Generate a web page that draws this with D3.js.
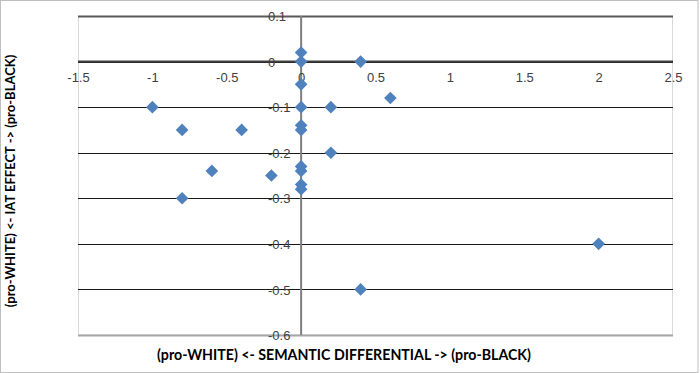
<!DOCTYPE html>
<meta charset="utf-8">
<style>
    body { margin: 0; background: #fff; }
    svg { font-family: Lato, "Open Sans", sans-serif; }
    .tick text { fill: #404040; font-size: 13px; }
    .title { font-weight: bold; fill: #000; }
</style>
<body>
<script src="https://cdn.jsdelivr.net/npm/d3@7"></script>
<script>
    // semantic differential (x) vs IAT effect (y)
    const semantic = [0, 0, 0.4, 0, -1, 0, 0.2, 0.6, -0.8, -0.4, 0, 0, 0.2, -0.6, -0.2, 0, 0, 0, 0, -0.8, 2, 0.4];
    const iat      = [0.02, 0, 0, -0.05, -0.1, -0.1, -0.1, -0.08, -0.15, -0.15, -0.14, -0.15, -0.2, -0.24, -0.25, -0.23, -0.24, -0.27, -0.28, -0.3, -0.4, -0.5];
    const xTicks = [-1.5, -1, -0.5, 0, 0.5, 1, 1.5, 2, 2.5];
    const yTicks = [0.1, 0, -0.1, -0.2, -0.3, -0.4, -0.5, -0.6];

    const W = 700, H = 373;
    const plot = {left: 78, right: 673, top: 16, bottom: 335};

    const svg = d3.select('body').append('svg')
        .attr('width', W)
        .attr('height', H);

    // outer chart border
    svg.append('rect')
        .attr('x', 0.5).attr('y', 0.5)
        .attr('width', 697.5).attr('height', 372)
        .style('fill', 'none')
        .style('stroke', '#bfbfbf');

    const x = d3.scaleLinear().domain([-1.5, 2.5]).range([plot.left, plot.right]);
    const y = d3.scaleLinear().domain([-0.6, 0.1]).range([plot.bottom, plot.top]);

    // excel style labels: plain hyphen minus
    const fmt = d => String(d);

    // plot area border (left / right / bottom)
    svg.append('path')
        .attr('d', `M${plot.left + 0.5},${plot.top}V${plot.bottom}H${plot.right - 0.5}V${plot.top}`)
        .style('fill', 'none')
        .style('stroke', '#d9d9d9');

    // horizontal gridlines
    svg.append('g')
        .selectAll('line')
        .data(yTicks)
        .enter().append('line')
        .attr('x1', plot.left)
        .attr('x2', plot.right)
        .attr('y1', d => Math.round(y(d)) + 0.5)
        .attr('y2', d => Math.round(y(d)) + 0.5)
        .style('stroke', d => d === 0.1 ? '#595959' : (d === -0.6 ? '#a6a6a6' : '#1a1a1a'))
        .style('stroke-width', d => (d === 0.1 || d === -0.6) ? 2 : 1.2);

    // vertical axis line at x = 0
    svg.append('line')
        .attr('x1', x(0)).attr('x2', x(0))
        .attr('y1', plot.top).attr('y2', plot.bottom)
        .style('stroke', '#7f7f7f')
        .style('stroke-width', 2);

    // horizontal axis line at y = 0
    svg.append('line')
        .attr('x1', plot.left).attr('x2', plot.right)
        .attr('y1', y(0)).attr('y2', y(0))
        .style('stroke', '#404040')
        .style('stroke-width', 2);

    // x axis labels, below the y=0 line
    const xAxis = d3.axisBottom(x).tickValues(xTicks).tickSize(0).tickPadding(0)
        .tickFormat(fmt);
    svg.append('g')
        .attr('class', 'x axis')
        .attr('transform', 'translate(0,' + (y(0) + 11) + ')')
        .call(xAxis)
        .call(g => g.select('.domain').remove());

    // y axis labels, left aligned next to the x=0 line
    const yAxis = d3.axisLeft(y).tickValues(yTicks).tickSize(0).tickPadding(0)
        .tickFormat(fmt);
    svg.append('g')
        .attr('class', 'y axis')
        .attr('transform', 'translate(268,0)')
        .call(yAxis)
        .call(g => g.select('.domain').remove())
        .selectAll('text')
        .attr('x', 0)
        .attr('text-anchor', 'start')
        .attr('dy', '0.36em');

    // markers
    const diamond = d3.symbol().type(d3.symbolSquare).size(80);
    svg.append('g')
        .selectAll('path')
        .data(semantic.map((d, i) => [d, iat[i]]))
        .enter().append('path')
        .attr('d', diamond)
        .attr('transform', d => `translate(${x(d[0])},${y(d[1])}) rotate(45)`)
        .style('fill', '#4f81bd');

    // axis titles
    svg.append('text')
        .attr('class', 'title')
        .attr('x', 344)
        .attr('y', 360)
        .attr('text-anchor', 'middle')
        .style('font-size', '14.2px')
        .text('(pro-WHITE) <- SEMANTIC DIFFERENTIAL -> (pro-BLACK)');

    svg.append('text')
        .attr('class', 'title')
        .attr('transform', 'translate(15,181) rotate(-90)')
        .attr('text-anchor', 'middle')
        .style('font-size', '13px')
        .text('(pro-WHITE) <- IAT EFFECT -> (pro-BLACK)');
</script>
</body>
</html>
